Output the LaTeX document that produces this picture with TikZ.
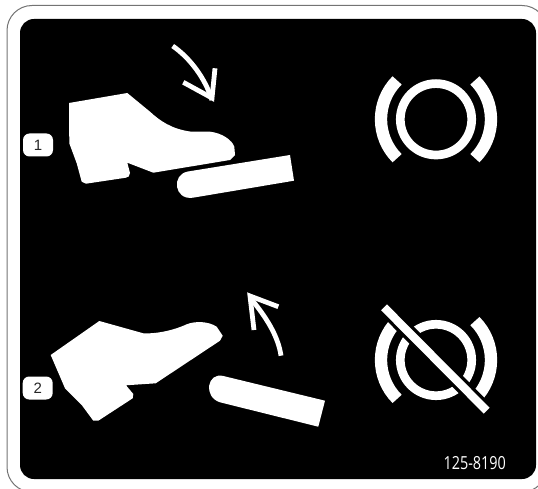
\documentclass[tikz,border=0pt]{standalone}
\usepackage{fontspec}
\usepackage{xcolor}
\newfontfamily\partfont[FakeStretch=.8]{Open Sans}
\setsansfont{Liberation Sans}
\begin{document}
\begin{tikzpicture}[
x=1pt,
y=-1pt,
panel/.style={
    fill=black,
    rounded corners=14pt
},
solid white/.style={
    fill=white,
    draw=none
},
pedal arrow/.style={
    draw=white,
    line width=4.8pt,
    miter limit=10
},
badge/.style={
    rectangle,
    rounded corners=6.5pt,
    fill=white,
    text=black!85,
    minimum width=30pt,
    minimum height=23pt,
    inner sep=0pt,
    font=\sffamily\fontsize{15}{15}\selectfont
},
brake/.pic={
    \draw [white, line width=8.7pt] (0,0) circle [radius=35.7pt];
    \draw [white, line width=12.3pt] (135:55pt) arc [start angle=135, end angle=225, radius=55pt];
    \draw [white, line width=12.3pt] (-45:55pt) arc [start angle=-45, end angle=45, radius=55pt];
}
]

\useasboundingbox (0,0) rectangle (538,489);
\clip (0,0) rectangle (538,489);

\draw [black!55, line width=1pt, rounded corners=25pt] (7,5.5) rectangle (547,492);
\fill [panel] (20,19) rectangle (536,479);

\node (badge1) [badge] at (38,145) {1};
\node (badge2) [badge] at (37.7,388) {2};

% upper shoe and pedal
\fill [solid white] (69,103) -- (127.3,93) -- (150,111.7)
    .. controls (160,121) and (172,129) .. (190,131.5)
    -- (210,131.7) .. controls (222,133) and (232,140) .. (234.3,146.7)
    -- (235,155) -- (230,160)
    -- (153.3,172.7) -- (127.3,162.7) -- (130,173)
    .. controls (130,176) and (128,177.5) .. (126,177.7)
    -- (86,183.7) -- (81.7,181.7) -- (76.7,163.3) -- (69.3,143.3) -- cycle;
\fill [solid white] (290,155) -- (188,171.5)
    .. controls (171,174.5) and (174,200.5) .. (193,197.7)
    -- (294,180.7) -- cycle;

\draw [pedal arrow] (172.7,46) .. controls (190,58) and (205,78) .. (212,100);
\draw [pedal arrow] (215,68.3) -- (212,98) -- (183.3,82.3);

% lower shoe and pedal
\fill [solid white] (50.7,355) -- (99.3,321) -- (143.3,333.3)
    .. controls (155,334) and (172,331) .. (186.7,324.3)
    .. controls (195,321) and (208,321) .. (216.7,326.7)
    -- (222.7,335.7) -- (220,340.7) -- (155.7,383.3) -- (126,385.3)
    -- (133.3,394) -- (132.7,398.3) -- (98.3,420.7) -- (93.3,420.7)
    -- (81.7,405) -- (65,388.3) -- cycle;
\fill [solid white] (325,400.7) -- (318.3,426.7) -- (220,402.3)
    .. controls (203,397) and (207,372) .. (223.3,376) -- cycle;

\draw [pedal arrow] (281,355.7) .. controls (278,335) and (265,316) .. (252,300);
\draw [pedal arrow] (278.3,306.7) -- (250,296) -- (254,330);

% brake symbols
\pic at (436,119.3) {brake};
\pic at (436,360) {brake};
\coordinate (slashA) at (384,307.3);
\coordinate (slashB) at (486.7,410.7);
\draw [black, line width=15pt] (slashA) -- (slashB);
\draw [white, line width=8.3pt] (slashA) -- (slashB);

\node (partno) [text=white, inner sep=0pt, font=\partfont\fontsize{18}{18}\selectfont] at (474.7,463.5) {125-8190};

\end{tikzpicture}
\end{document}
